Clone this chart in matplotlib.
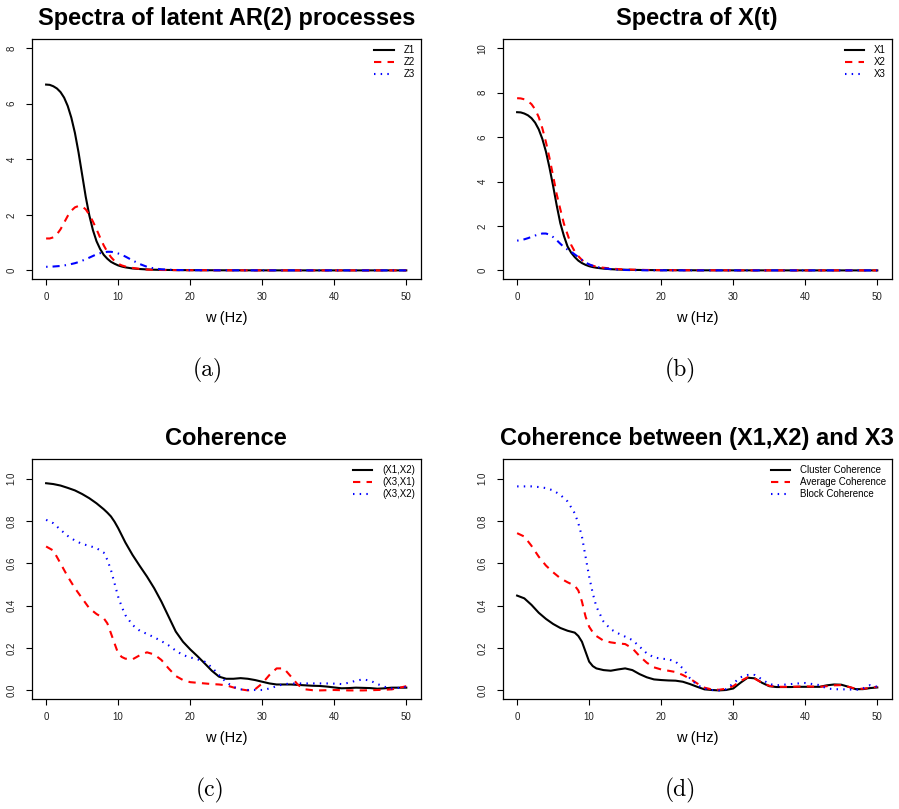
import matplotlib
matplotlib.use("Agg")
import matplotlib.pyplot as plt
from matplotlib.lines import Line2D

plt.rcParams['font.family'] = ['Liberation Sans', 'DejaVu Sans']

# ---------------------------------------------------------------- data
# frequency grid (Hz) for the spectral densities
freq_spec = [0, 0.5, 1, 1.5, 2, 2.5, 3, 3.5, 4, 4.5, 5, 5.5, 6, 6.5, 7, 7.5,
             8, 8.5, 9, 9.5, 10, 10.5, 11, 11.5, 12,
             13, 14, 15, 16, 18, 20, 25, 30, 35, 40, 45, 50]

# spectra of the latent AR(2) processes
spec_z1 = [6.69, 6.68, 6.63, 6.55, 6.42, 6.22, 5.92, 5.50, 4.95, 4.25, 3.45,
           2.65, 1.98, 1.45, 1.05, 0.77, 0.56, 0.42, 0.31, 0.24, 0.18, 0.14,
           0.11, 0.09, 0.07,
           0.05, 0.035, 0.025, 0.02, 0.012, 0.008, 0.004, 0.002, 0.001, 0.001,
           0.001, 0.001]
spec_z2 = [1.15, 1.15, 1.19, 1.30, 1.48, 1.72, 1.96, 2.15, 2.27, 2.32, 2.30,
           2.20, 2.00, 1.76, 1.48, 1.18, 0.90, 0.67, 0.48, 0.34, 0.24, 0.18,
           0.14, 0.11, 0.09,
           0.055, 0.03, 0.02, 0.015, 0.01, 0.007, 0.004, 0.002, 0.001, 0.001,
           0.001, 0.001]
spec_z3 = [0.13, 0.13, 0.14, 0.15, 0.16, 0.18, 0.20, 0.23, 0.26, 0.30, 0.35,
           0.40, 0.46, 0.52, 0.58, 0.62, 0.65, 0.67, 0.67, 0.65, 0.61, 0.56,
           0.50, 0.43, 0.36,
           0.23, 0.13, 0.07, 0.04, 0.015, 0.008, 0.004, 0.002, 0.001, 0.001,
           0.001, 0.001]

# spectra of the observed channels
spec_x1 = [7.12, 7.11, 7.06, 6.98, 6.85, 6.65, 6.35, 5.92, 5.35, 4.62, 3.80,
           2.92, 2.12, 1.55, 1.08, 0.80, 0.60, 0.44, 0.33, 0.25, 0.19, 0.15,
           0.12, 0.10, 0.08,
           0.055, 0.04, 0.03, 0.025, 0.015, 0.01, 0.005, 0.003, 0.002, 0.001,
           0.001, 0.001]
spec_x2 = [7.75, 7.74, 7.70, 7.62, 7.48, 7.25, 6.90, 6.40, 5.78, 5.05, 4.25,
           3.42, 2.75, 2.10, 1.62, 1.15, 0.85, 0.64, 0.47, 0.34, 0.26, 0.21,
           0.17, 0.14, 0.12,
           0.085, 0.06, 0.045, 0.035, 0.02, 0.012, 0.006, 0.003, 0.002, 0.001,
           0.001, 0.001]
spec_x3 = [1.34, 1.36, 1.40, 1.45, 1.51, 1.57, 1.62, 1.66, 1.66, 1.61, 1.50,
           1.36, 1.20, 1.05, 0.94, 0.84, 0.72, 0.60, 0.47, 0.36, 0.27, 0.21,
           0.16, 0.13, 0.10,
           0.06, 0.035, 0.02, 0.012, 0.006, 0.004, 0.002, 0.001, 0.001, 0.001,
           0.001, 0.001]

# frequency grid (Hz) for the coherence estimates
freq_coh = [0, 1, 2, 3, 4, 5, 6, 7, 8, 8.5, 9, 9.5, 10, 10.5, 11, 12, 13, 14,
            15, 16, 17, 18, 19, 20, 21, 22, 23, 24, 25, 26, 27, 28, 29, 30, 31,
            32, 33, 34, 35, 36, 37, 38, 39, 40, 41, 42, 43, 44, 45, 46, 47, 48,
            49, 50]

coh_x1x2 = [0.979, 0.975, 0.968, 0.957, 0.945, 0.928, 0.908, 0.884, 0.856,
            0.840, 0.822, 0.797, 0.767, 0.733, 0.699, 0.640, 0.588, 0.538,
            0.483, 0.420, 0.349, 0.278, 0.230, 0.194, 0.162, 0.128, 0.093,
            0.065, 0.055, 0.055, 0.058, 0.055, 0.049, 0.041, 0.033, 0.028,
            0.028, 0.028, 0.026, 0.024, 0.022, 0.021, 0.018, 0.014, 0.010,
            0.011, 0.013, 0.012, 0.011, 0.008, 0.010, 0.013, 0.013, 0.013]
coh_x3x1 = [0.680, 0.661, 0.600, 0.538, 0.483, 0.435, 0.388, 0.361, 0.341,
            0.317, 0.270, 0.222, 0.175, 0.158, 0.150, 0.147, 0.166, 0.180,
            0.170, 0.144, 0.104, 0.068, 0.049, 0.039, 0.036, 0.033, 0.030,
            0.028, 0.024, 0.014, 0.005, 0.000, 0.005, 0.033, 0.073, 0.104,
            0.104, 0.065, 0.025, 0.005, 0.001, 0.000, 0.001, 0.002, 0.001,
            0.000, 0.000, 0.000, 0.001, 0.002, 0.003, 0.005, 0.012, 0.020]
coh_x3x2 = [0.806, 0.790, 0.759, 0.730, 0.708, 0.692, 0.683, 0.672, 0.651,
            0.617, 0.569, 0.506, 0.443, 0.395, 0.356, 0.309, 0.282, 0.267,
            0.251, 0.233, 0.213, 0.188, 0.167, 0.156, 0.147, 0.136, 0.109,
            0.073, 0.039, 0.017, 0.005, 0.002, 0.002, 0.002, 0.009, 0.020,
            0.030, 0.032, 0.033, 0.033, 0.033, 0.033, 0.033, 0.032, 0.030,
            0.036, 0.046, 0.052, 0.046, 0.030, 0.017, 0.009, 0.012, 0.017]

coh_cluster = [0.448, 0.435, 0.404, 0.367, 0.338, 0.314, 0.295, 0.282, 0.273,
               0.257, 0.230, 0.183, 0.136, 0.115, 0.104, 0.096, 0.093, 0.099,
               0.104, 0.096, 0.077, 0.062, 0.052, 0.049, 0.047, 0.046, 0.041,
               0.030, 0.017, 0.005, 0.002, 0.000, 0.002, 0.009, 0.036, 0.060,
               0.057, 0.036, 0.020, 0.016, 0.016, 0.016, 0.017, 0.017, 0.017,
               0.017, 0.024, 0.028, 0.027, 0.017, 0.006, 0.006, 0.011, 0.014]
coh_average = [0.743, 0.727, 0.683, 0.632, 0.590, 0.558, 0.530, 0.511, 0.495,
               0.472, 0.420, 0.349, 0.301, 0.275, 0.257, 0.235, 0.227, 0.222,
               0.219, 0.199, 0.162, 0.131, 0.109, 0.099, 0.093, 0.087, 0.073,
               0.055, 0.033, 0.013, 0.005, 0.003, 0.008, 0.020, 0.044, 0.062,
               0.055, 0.036, 0.022, 0.017, 0.017, 0.017, 0.018, 0.019, 0.018,
               0.017, 0.020, 0.024, 0.025, 0.017, 0.008, 0.008, 0.012, 0.017]
coh_block = [0.964, 0.964, 0.964, 0.961, 0.956, 0.945, 0.924, 0.893, 0.837,
             0.790, 0.727, 0.632, 0.538, 0.459, 0.396, 0.325, 0.289, 0.270,
             0.254, 0.238, 0.207, 0.175, 0.156, 0.150, 0.147, 0.136, 0.104,
             0.057, 0.025, 0.009, 0.002, 0.000, 0.006, 0.033, 0.062, 0.073,
             0.073, 0.052, 0.030, 0.024, 0.027, 0.030, 0.033, 0.035, 0.030,
             0.025, 0.009, 0.006, 0.005, 0.005, 0.002, 0.009, 0.025, 0.017]

x_ticks = [0, 10, 20, 30, 40, 50]
y_ticks_a = [0, 2, 4, 6, 8]
y_ticks_b = [0, 2, 4, 6, 8, 10]
y_ticks_coh = [0.0, 0.2, 0.4, 0.6, 0.8, 1.0]

# ---------------------------------------------------------------- styles
LW = 1.5
SOLID = dict(color='black', linestyle='-', linewidth=LW)
DASHED = dict(color='red', linestyle=(0, (3.5, 3.0)), linewidth=LW)
DOTTED = dict(color='blue', linestyle=(0, (0.7, 2.5)), linewidth=LW)
DOTDASH = dict(color='blue', linestyle=(0, (0.7, 2.4, 3.4, 2.4)), linewidth=LW)

W, H = 899, 809
fig = plt.figure(figsize=(W / 100, H / 100), dpi=100)


def add_axes_px(left, top, right, bottom):
    return fig.add_axes([left / W, 1 - bottom / H,
                         (right - left) / W, (bottom - top) / H])


def style_axes(ax, yticks, ymax, ylabels):
    ax.set_xlim(-2, 52)
    pad = 0.04 * ymax
    ax.set_ylim(-pad, ymax + pad)
    ax.set_xticks(x_ticks)
    ax.set_yticks(yticks)
    ax.set_yticklabels(ylabels)
    for sp in ax.spines.values():
        sp.set_linewidth(0.9)
        sp.set_color('black')
    ax.tick_params(axis='both', direction='out', length=4, width=0.8,
                   labelsize=7, colors='black', labelcolor='#222222')
    ax.tick_params(axis='x', pad=5.5)
    ax.tick_params(axis='y', pad=7, labelrotation=90)
    for lab in ax.get_yticklabels():
        lab.set_va('center')
    ax.set_xlabel('w (Hz)', fontsize=10.5, labelpad=6)


def add_legend(ax, labels, styles):
    handles = [Line2D([], [], **s) for s in styles]
    ax.legend(handles, labels, loc='upper right', frameon=False, fontsize=7,
              handlelength=2.0, handletextpad=1.0, labelspacing=0.2,
              borderpad=0.4, borderaxespad=0.2)


def title(ax, text):
    ax.set_title(text, fontsize=17, fontweight='bold', pad=10)


# (a) latent AR(2) spectra
ax_a = add_axes_px(31.7, 39.3, 420.7, 279.3)
ax_a.plot(freq_spec, spec_z1, **SOLID)
ax_a.plot(freq_spec, spec_z2, **DASHED)
ax_a.plot(freq_spec, spec_z3, **DOTDASH)
style_axes(ax_a, y_ticks_a, 8, [str(v) for v in y_ticks_a])
add_legend(ax_a, ['Z1', 'Z2', 'Z3'], [SOLID, DASHED, DOTTED])
title(ax_a, 'Spectra of latent AR(2) processes')

# (b) observed spectra
ax_b = add_axes_px(502.7, 39.3, 891.7, 279.3)
ax_b.plot(freq_spec, spec_x1, **SOLID)
ax_b.plot(freq_spec, spec_x2, **DASHED)
ax_b.plot(freq_spec, spec_x3, **DOTDASH)
style_axes(ax_b, y_ticks_b, 10, [str(v) for v in y_ticks_b])
add_legend(ax_b, ['X1', 'X2', 'X3'], [SOLID, DASHED, DOTTED])
title(ax_b, 'Spectra of X(t)')

coh_labels = ['%.1f' % v for v in y_ticks_coh]

# (c) pairwise coherence
ax_c = add_axes_px(31.7, 459.3, 420.7, 699.3)
ax_c.plot(freq_coh, coh_x1x2, **SOLID)
ax_c.plot(freq_coh, coh_x3x1, **DASHED)
ax_c.plot(freq_coh, coh_x3x2, **DOTTED)
style_axes(ax_c, y_ticks_coh, 1.05, coh_labels)
add_legend(ax_c, ['(X1,X2)', '(X3,X1)', '(X3,X2)'], [SOLID, DASHED, DOTTED])
title(ax_c, 'Coherence')

# (d) coherence between the cluster (X1,X2) and X3
ax_d = add_axes_px(502.7, 459.3, 891.7, 699.3)
ax_d.plot(freq_coh, coh_cluster, **SOLID)
ax_d.plot(freq_coh, coh_average, **DASHED)
ax_d.plot(freq_coh, coh_block, **DOTTED)
style_axes(ax_d, y_ticks_coh, 1.05, coh_labels)
add_legend(ax_d, ['Cluster Coherence', 'Average Coherence', 'Block Coherence'],
           [SOLID, DASHED, DOTTED])
title(ax_d, 'Coherence between (X1,X2) and X3')

# sub-figure captions
for text, x, y in [('(a)', 208, 370), ('(b)', 680, 370),
                   ('(c)', 210, 790), ('(d)', 680, 790)]:
    fig.text(x / W, 1 - y / H, text, fontfamily='cmr10', fontsize=17,
             ha='center', va='center')

fig.savefig('out.png', dpi=100)
